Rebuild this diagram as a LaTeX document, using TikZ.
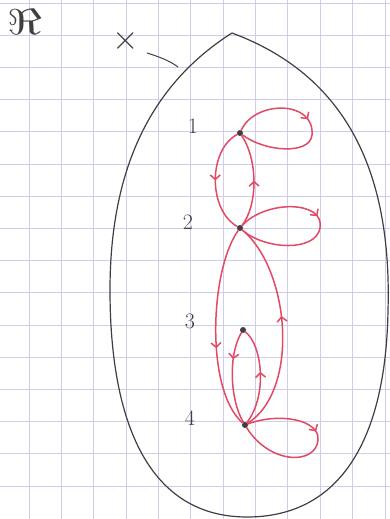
\documentclass[tikz,border=0pt]{standalone}
\usepackage{amsmath, amssymb}
\usepackage{xcolor}
\usepackage{tikz}
\usetikzlibrary{arrows.meta, positioning, decorations.markings}
\definecolor{gridlilac}{HTML}{CFCCEC}
\definecolor{inkgray}{HTML}{3F3F3F}
\definecolor{chainred}{HTML}{E04A64}

\tikzset{
    flow/.style={postaction={decorate, decoration={markings,
        mark=at position #1 with {\arrow{Straight Barb[length=4.5pt, width=10pt]}}}}},
    chain/.style={chainred, line width=1.5pt, line cap=round},
    state/.style={circle, fill=inkgray, inner sep=0pt, minimum size=6pt},
    digit/.style={inkgray, font=\fontsize{22}{24}\selectfont}
}

\begin{document}
\begin{tikzpicture}[x=1pt, y=-1pt, >=Stealth]
    \useasboundingbox (0,0) rectangle (390,519);
    % Squared paper
    \fill[white] (0,0) rectangle (390,519);
    \foreach \i in {0,...,11} \draw[gridlilac, line width=0.7pt] (29+32.35*\i, 0) -- (29+32.35*\i, 519);
    \foreach \j in {0,...,15} \draw[gridlilac, line width=0.7pt] (0, 3+32.2*\j) -- (390, 3+32.2*\j);

    % Space and its name
    \node[inkgray, xscale=4.8, yscale=3.6, transform shape] (space) at (25,22) {$\Re$};
    \draw[inkgray, line width=1.2pt] (232,33) .. controls (345,75) and (392,170) .. (388,310)
        .. controls (386,440) and (340,517) .. (247,517)
        .. controls (150,517) and (110,425) .. (110,290)
        .. controls (110,170) and (150,85) .. (232,33);
    \node[inkgray, scale=3.4, transform shape] (setx) at (126,41) {$\times$};
    \coordinate (rim) at (178,67);
    \draw[inkgray, line width=1pt] (147,53) .. controls (160,57) and (170,61) .. (rim);

    % States
    \node[state] (s1) at (240,133) {};
    \node[state] (s2) at (240,228) {};
    \node[state] (s3) at (243,330) {};
    \node[state] (s4) at (245,425) {};
    \node[digit] (lab1) at (193,126) {1};
    \node[digit] (lab2) at (188,222) {2};
    \node[digit] (lab3) at (190,321) {3};
    \node[digit] (lab4) at (190,418) {4};

    % Transitions 1 <-> 2
    \draw[chain, flow=0.5] (s1) .. controls (208,150) and (208,210) .. (s2);
    \draw[chain, flow=0.5] (s2) .. controls (258,205) and (258,160) .. (s1);
    \draw[chain, flow=0.45] (s1) .. controls (255,100) and (315,100) .. (312,135)
        .. controls (310,155) and (265,152) .. (s1);
    \draw[chain, flow=0.45] (s2) .. controls (265,200) and (325,200) .. (320,228)
        .. controls (316,252) and (265,250) .. (s2);

    % Transitions 2 <-> 4
    \draw[chain, flow=0.6] (s2) .. controls (210,270) and (205,390) .. (s4);
    \draw[chain, flow=0.55] (s4) .. controls (300,390) and (290,270) .. (s2);

    % Transitions 3 <-> 4
    \draw[chain, flow=0.3] (s3) .. controls (228,355) and (230,400) .. (s4);
    \draw[chain, flow=0.55] (s4) .. controls (268,395) and (262,345) .. (s3);
    \draw[chain, flow=0.42] (s4) .. controls (280,412) and (320,420) .. (318,440)
        .. controls (316,465) and (270,465) .. (s4);
\end{tikzpicture}
\end{document}
